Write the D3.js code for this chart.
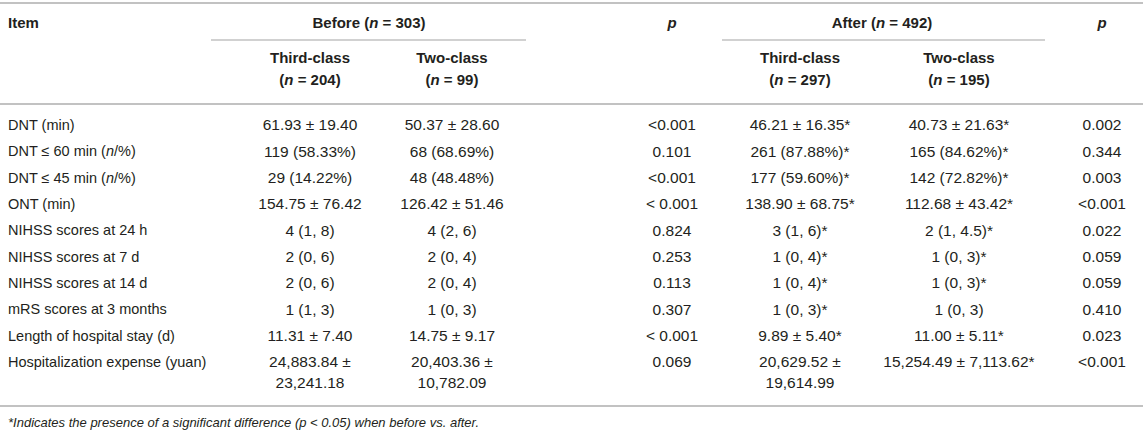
<!DOCTYPE html>
<html>
<head>
<meta charset="utf-8">
<script src="https://cdn.jsdelivr.net/npm/d3@7"></script>
<style>
  body { margin: 0; background: #fff; }
  svg text { font-family: "Liberation Sans", Arial, Helvetica, sans-serif; fill: #231f20; }
</style>
</head>
<body>
<div id="table"></div>
<script>
// Table content (underscores mark italic text, | marks a line break)
const items = [
  "DNT (min)",
  "DNT ≤ 60 min (_n_/%)",
  "DNT ≤ 45 min (_n_/%)",
  "ONT (min)",
  "NIHSS scores at 24 h",
  "NIHSS scores at 7  d",
  "NIHSS scores at 14  d",
  "mRS scores at 3 months",
  "Length of hospital stay (d)",
  "Hospitalization expense (yuan)"
];
const beforeThird = ["61.93 ± 19.40", "119 (58.33%)", "29 (14.22%)", "154.75 ± 76.42", "4 (1, 8)", "2 (0, 6)", "2 (0, 6)", "1 (1, 3)", "11.31 ± 7.40", "24,883.84 ±|23,241.18"];
const beforeTwo = ["50.37 ± 28.60", "68 (68.69%)", "48 (48.48%)", "126.42 ± 51.46", "4 (2, 6)", "2 (0, 4)", "2 (0, 4)", "1 (0, 3)", "14.75 ± 9.17", "20,403.36 ±|10,782.09"];
const pBefore = ["<0.001", "0.101", "<0.001", "< 0.001", "0.824", "0.253", "0.113", "0.307", "< 0.001", "0.069"];
const afterThird = ["46.21 ± 16.35*", "261 (87.88%)*", "177 (59.60%)*", "138.90 ± 68.75*", "3 (1, 6)*", "1 (0, 4)*", "1 (0, 4)*", "1 (0, 3)*", "9.89 ± 5.40*", "20,629.52 ±|19,614.99"];
const afterTwo = ["40.73 ± 21.63*", "165 (84.62%)*", "142 (72.82%)*", "112.68 ± 43.42*", "2 (1, 4.5)*", "1 (0, 3)*", "1 (0, 3)*", "1 (0, 3)", "11.00 ± 5.11*", "15,254.49 ± 7,113.62*"];
const pAfter = ["0.002", "0.344", "0.003", "<0.001", "0.022", "0.059", "0.059", "0.410", "0.023", "<0.001"];

const groupHeaders = ["Before (_n_ = 303)", "After (_n_ = 492)"];
const subHeaders = ["Third-class|(_n_ = 204)", "Two-class|(_n_ = 99)", "Third-class|(_n_ = 297)", "Two-class|(_n_ = 195)"];
const footnote = "*Indicates the presence of a significant difference (p < 0.05) when before vs. after.";

const W = 1143, H = 433;
const itemSize = 14.5, valueSize = 15.5, headSize = 15;
const lineH = 21;
const ruleColor = "#c2c2c2";

const svg = d3.select("#table").append("svg")
  .attr("width", W)
  .attr("height", H);

// column centres
const colKeys = ["bt", "btw", "pb", "at", "atw", "pa"];
const colX = d3.scaleOrdinal()
  .domain(colKeys)
  .range([310, 452, 672, 800, 959, 1102]);
const itemX = 8;

// row positions
const rowY = d3.scaleLinear()
  .domain([0, items.length - 1])
  .range([125, 362]);

// write text with _italic_ segments and | line breaks
function richText(sel, str, opts) {
  const lines = str.split("|");
  lines.forEach((ln, li) => {
    const t = sel.append("text")
      .attr("x", opts.x)
      .attr("y", opts.y + li * (opts.lh || lineH))
      .attr("dy", "0.35em")
      .attr("text-anchor", opts.anchor || "middle")
      .style("font-size", opts.size + "px")
      .style("font-weight", opts.bold ? "bold" : "normal");
    ln.split("_").forEach((part, i) => {
      if (!part) return;
      t.append("tspan")
        .style("font-style", i % 2 === 1 ? "italic" : "normal")
        .text(part);
    });
  });
}

// rules
const rule = (x1, x2, y, w) => svg.append("line")
  .attr("x1", x1).attr("x2", x2).attr("y1", y).attr("y2", y)
  .attr("stroke", ruleColor).attr("stroke-width", w);

rule(0, W, 3, 2);
rule(211, 526, 40, 1.5);
rule(722, 1045, 40, 1.5);
rule(0, W, 104, 2);
rule(0, W, 406, 2);

// header
const headerY = 23;
richText(svg, "Item", {x: itemX, y: headerY, anchor: "start", bold: true, size: headSize});
richText(svg, groupHeaders[0], {x: 369, y: headerY, bold: true, size: headSize});
richText(svg, groupHeaders[1], {x: 882, y: headerY, bold: true, size: headSize});
richText(svg, "_p_", {x: colX("pb"), y: headerY, bold: true, size: headSize});
richText(svg, "_p_", {x: colX("pa"), y: headerY, bold: true, size: headSize});

["bt", "btw", "at", "atw"].forEach((k, i) => {
  richText(svg, subHeaders[i], {x: colX(k), y: 58, bold: true, size: headSize, lh: 22});
});

// body
const columns = [
  ["bt", beforeThird], ["btw", beforeTwo], ["pb", pBefore],
  ["at", afterThird], ["atw", afterTwo], ["pa", pAfter]
];

const body = svg.append("g").attr("class", "body");
items.forEach((name, r) => {
  richText(body, name, {x: itemX, y: rowY(r), anchor: "start", size: itemSize});
  columns.forEach(([k, vals]) => {
    richText(body, vals[r], {x: colX(k), y: rowY(r), size: valueSize});
  });
});

// footnote
svg.append("text")
  .attr("x", itemX)
  .attr("y", 422)
  .attr("dy", "0.35em")
  .style("font-size", "13px")
  .style("font-style", "italic")
  .text(footnote);
</script>
</body>
</html>
